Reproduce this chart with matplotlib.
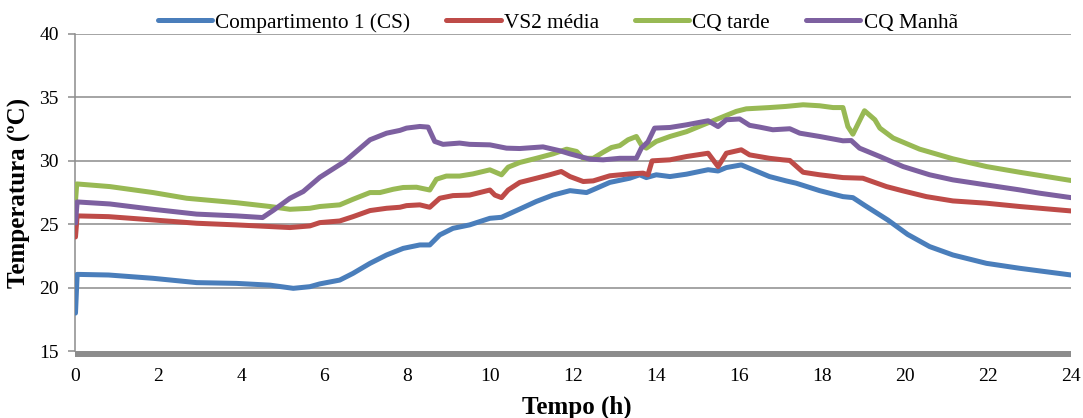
import matplotlib
matplotlib.use("Agg")
import matplotlib.pyplot as plt
from matplotlib.lines import Line2D

plt.rcParams["font.family"] = ["Liberation Serif", "DejaVu Serif"]

# Compartimento 1 (CS)
t_cs = [0.0, 0.04, 0.8, 1.87, 2.92, 3.88, 4.69, 5.25, 5.65, 5.89, 6.37, 6.69,
        7.10, 7.50, 7.90, 8.30, 8.54, 8.78, 9.10, 9.50, 9.99, 10.27, 10.71,
        11.11, 11.51, 11.92, 12.32, 12.56, 12.88, 13.36, 13.60, 13.76, 14.00,
        14.33, 14.73, 15.25, 15.49, 15.69, 16.05, 16.33, 16.73, 17.13, 17.37,
        17.94, 18.50, 18.74, 19.02, 19.58, 20.06, 20.59, 21.15, 21.96, 22.76,
        24.0]
v_cs = [18.0, 21.05, 21.0, 20.74, 20.4, 20.34, 20.2, 19.95, 20.08, 20.3, 20.6,
        21.13, 21.92, 22.58, 23.1, 23.37, 23.37, 24.16, 24.68, 24.95, 25.47,
        25.55, 26.2, 26.8, 27.3, 27.65, 27.5, 27.84, 28.3, 28.63, 28.9, 28.68,
        28.9, 28.76, 28.95, 29.3, 29.2, 29.47, 29.68, 29.3, 28.76, 28.42, 28.24,
        27.65, 27.18, 27.1, 26.5, 25.34, 24.2, 23.24, 22.58, 21.92, 21.53, 21.0]

# VS2 média
t_vs2 = [0.0, 0.04, 0.8, 1.87, 2.92, 3.88, 4.69, 5.17, 5.65, 5.89, 6.37, 6.69,
         7.10, 7.50, 7.82, 7.98, 8.30, 8.54, 8.78, 9.10, 9.50, 9.99, 10.11,
         10.27, 10.43, 10.71, 11.11, 11.43, 11.71, 11.92, 12.24, 12.48, 12.88,
         13.36, 13.68, 13.80, 13.90, 14.33, 14.73, 15.25, 15.49, 15.69, 16.05,
         16.25, 16.73, 17.05, 17.22, 17.54, 17.94, 18.50, 18.98, 19.55, 19.95,
         20.51, 21.15, 21.96, 22.76, 24.0]
v_vs2 = [24.0, 25.66, 25.6, 25.34, 25.08, 24.95, 24.82, 24.74, 24.87, 25.13,
         25.26, 25.6, 26.08, 26.26, 26.34, 26.47, 26.53, 26.34, 27.05, 27.26,
         27.3, 27.7, 27.3, 27.1, 27.7, 28.3, 28.63, 28.9, 29.16, 28.76, 28.37,
         28.42, 28.82, 28.97, 29.03, 28.9, 30.0, 30.08, 30.34, 30.6, 29.55,
         30.6, 30.87, 30.47, 30.2, 30.08, 30.03, 29.1, 28.9, 28.68, 28.63,
         27.97, 27.63, 27.18, 26.84, 26.66, 26.4, 26.05]

# CQ tarde
t_tarde = [0.0, 0.03, 0.83, 1.87, 2.68, 3.88, 4.69, 5.17, 5.65, 5.89, 6.37,
           6.69, 7.10, 7.34, 7.66, 7.90, 8.22, 8.54, 8.70, 8.94, 9.26, 9.58,
           9.99, 10.27, 10.43, 10.71, 11.11, 11.51, 11.84, 12.08, 12.24, 12.48,
           12.72, 12.92, 13.12, 13.32, 13.52, 13.64, 13.76, 14.00, 14.33,
           14.73, 15.13, 15.53, 15.93, 16.17, 16.73, 17.13, 17.54, 17.94,
           18.26, 18.50, 18.62, 18.74, 19.02, 19.27, 19.39, 19.71, 20.35,
           21.15, 21.96, 22.76, 23.24, 24.0]
v_tarde = [26.8, 28.18, 27.97, 27.5, 27.05, 26.7, 26.4, 26.18, 26.26, 26.4,
           26.53, 26.97, 27.5, 27.5, 27.76, 27.9, 27.92, 27.7, 28.55, 28.8,
           28.8, 28.97, 29.29, 28.9, 29.5, 29.87, 30.2, 30.55, 30.92, 30.74,
           30.2, 30.2, 30.68, 31.05, 31.2, 31.66, 31.92, 31.26, 31.0, 31.53,
           31.92, 32.3, 32.84, 33.37, 33.9, 34.1, 34.2, 34.29, 34.42, 34.34,
           34.2, 34.2, 32.7, 32.1, 33.95, 33.24, 32.58, 31.8, 30.92, 30.16,
           29.55, 29.1, 28.85, 28.45]

# CQ Manhã
t_manha = [0.0, 0.04, 0.83, 1.87, 2.92, 3.88, 4.51, 4.77, 5.17, 5.49, 5.89,
           6.49, 7.10, 7.50, 7.82, 7.98, 8.30, 8.50, 8.66, 8.86, 9.26, 9.50,
           9.99, 10.39, 10.71, 11.27, 11.67, 11.92, 12.16, 12.40, 12.72, 13.12,
           13.52, 13.64, 13.80, 13.96, 14.33, 14.73, 15.25, 15.49, 15.69,
           16.01, 16.25, 16.49, 16.81, 17.22, 17.46, 17.94, 18.50, 18.70,
           18.90, 19.39, 19.95, 20.59, 21.15, 21.96, 22.76, 23.24, 24.0]
v_manha = [25.1, 26.76, 26.6, 26.18, 25.8, 25.66, 25.53, 26.1, 27.05, 27.58,
           28.7, 29.95, 31.66, 32.18, 32.4, 32.58, 32.71, 32.66, 31.53, 31.3,
           31.4, 31.3, 31.26, 31.0, 30.97, 31.1, 30.8, 30.55, 30.34, 30.13,
           30.08, 30.2, 30.2, 31.0, 31.5, 32.58, 32.63, 32.84, 33.16, 32.7,
           33.24, 33.3, 32.8, 32.66, 32.45, 32.53, 32.18, 31.92, 31.58, 31.6,
           31.0, 30.34, 29.55, 28.9, 28.5, 28.1, 27.71, 27.45, 27.1]

labels = ["Compartimento 1 (CS)", "VS2 média", "CQ tarde", "CQ Manhã"]
colors = ["#4A7EBB", "#BE4B48", "#98B954", "#7D60A0"]
x_ticks = list(range(0, 25, 2))
y_ticks = [15, 20, 25, 30, 35, 40]

fig = plt.figure(figsize=(10.83, 4.18), dpi=100)
ax = fig.add_axes([0.0697, 0.160, 0.9193, 0.7587])

series = [(t_cs, v_cs), (t_vs2, v_vs2), (t_tarde, v_tarde), (t_manha, v_manha)]
for (t, v), c, lab in zip(series, colors, labels):
    ax.plot(t, v, color=c, lw=3.6, solid_capstyle="round",
            solid_joinstyle="round", label=lab, zorder=3)

ax.set_xlim(0, 24)
ax.set_ylim(15, 40)
ax.set_xticks(x_ticks)
ax.set_yticks(y_ticks)

grid_c = "#8C8C8C"
for y in y_ticks[1:]:
    ax.axhline(y, color=grid_c, lw=1.1, zorder=1)

for s in ["top", "right"]:
    ax.spines[s].set_visible(False)
ax.spines["left"].set_color(grid_c)
ax.spines["left"].set_linewidth(1.1)
ax.spines["bottom"].set_color("#8C8C8C")
ax.spines["bottom"].set_linewidth(4.3)
ax.spines["bottom"].set_position(("data", 14.77))
ax.spines["bottom"].set_capstyle("butt")

ax.tick_params(axis="y", direction="out", length=5, width=1.1, color=grid_c,
               labelsize=14, pad=7)
ax.tick_params(axis="x", length=0, labelsize=14, pad=10)

ax.set_xlabel("Tempo (h)", fontsize=18, fontweight="bold", labelpad=8)
ax.set_ylabel("Temperatura (ºC)", fontsize=18, fontweight="bold", labelpad=6)
ax.xaxis.label.set_x(0.504)

handles = [Line2D([0], [0], color=c, lw=3.6, solid_capstyle="round") for c in colors]
fig.legend(handles, labels, loc="center", bbox_to_anchor=(0.515, 0.945),
           ncol=4, frameon=False, fontsize=15.3, handlelength=2.55,
           handletextpad=0.15, columnspacing=1.7, borderaxespad=0)

fig.savefig("out.png", dpi=100)
